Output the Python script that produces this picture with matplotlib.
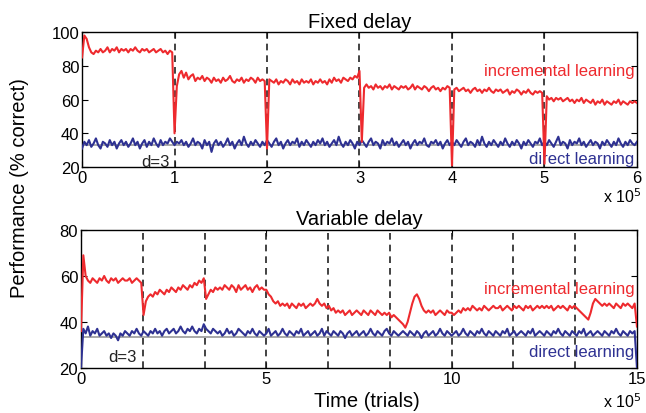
import numpy as np
import matplotlib
matplotlib.use('Agg')
import matplotlib.pyplot as plt

plt.rcParams['font.family'] = ['Liberation Sans', 'DejaVu Sans']

tick_font_size = 12
label_font_size = 14.5

red = '#EE2A2E'
blue = '#2E3192'
chance = 100.0 / 3

# fixed delay: one sample every 0.025 x 1e5 trials, 0..6
fixed_x = np.linspace(0, 6, 241)
fixed_incremental = [
    85, 98, 96, 91, 88, 87, 89, 88, 90, 88, 89, 91, 88, 90, 89, 91, 88, 90, 89, 90,
    88, 90, 89, 91, 89, 88, 90, 89, 90, 88, 89, 90, 88, 89, 90, 88, 89, 87, 89, 88,
    40, 68, 75, 77, 73, 76, 72, 74, 75, 71, 73, 72, 74, 71, 73, 72, 70, 73, 71, 72,
    70, 73, 71, 72, 74, 71, 70, 72, 71, 73, 70, 72, 71, 73, 72, 70, 73, 71, 72, 71,
    31, 72, 71, 70, 72, 69, 71, 70, 72, 71, 69, 72, 70, 71, 69, 72, 70, 71, 70, 72,
    69, 71, 70, 72, 70, 71, 69, 72, 70, 73, 71, 72, 70, 73, 72, 71, 73, 72, 74, 73,
    77, 35, 67, 69, 67, 68, 66, 69, 67, 68, 66, 68, 67, 69, 66, 68, 67, 66, 68, 67,
    68, 66, 67, 69, 66, 68, 67, 66, 68, 67, 65, 67, 68, 66, 67, 65, 67, 66, 68, 67,
    21, 66, 67, 65, 66, 67, 65, 66, 64, 66, 67, 65, 66, 64, 66, 65, 67, 65, 64, 66,
    65, 66, 64, 65, 66, 63, 65, 64, 66, 65, 63, 65, 64, 66, 64, 63, 65, 64, 65, 64,
    22, 62, 60, 61, 59, 61, 60, 61, 59, 60, 61, 59, 60, 58, 60, 59, 61, 58, 60, 59,
    58, 60, 57, 59, 58, 60, 57, 59, 58, 57, 59, 58, 60, 57, 59, 58, 57, 59, 58, 59,
    58,
]
fixed_direct = [
    31, 35, 33, 36, 32, 34, 37, 33, 31, 35, 34, 32, 36, 33, 35, 31, 34, 36, 33, 35,
    32, 34, 37, 33, 35, 31, 34, 36, 32, 35, 33, 37, 34, 32, 36, 33, 35, 34, 37, 35,
    33, 35, 34, 36, 33, 35, 32, 34, 37, 33, 35, 34, 31, 36, 33, 35, 29, 34, 36, 33,
    35, 32, 34, 37, 33, 35, 31, 34, 36, 33, 38, 34, 32, 35, 33, 36, 34, 32, 35, 33,
    36, 34, 32, 35, 37, 33, 35, 31, 34, 36, 33, 35, 34, 37, 32, 35, 33, 36, 34, 32,
    35, 33, 36, 34, 37, 33, 35, 32, 34, 36, 33, 38, 34, 32, 35, 33, 36, 34, 31, 35,
    33, 36, 34, 32, 35, 37, 33, 35, 34, 31, 36, 33, 35, 34, 37, 33, 35, 32, 34, 36,
    33, 35, 31, 34, 36, 33, 35, 34, 37, 33, 32, 35, 34, 36, 33, 35, 31, 34, 36, 33,
    35, 33, 36, 34, 32, 35, 37, 33, 35, 34, 32, 36, 33, 38, 34, 32, 35, 33, 36, 34,
    32, 35, 33, 37, 34, 32, 35, 33, 36, 34, 31, 35, 33, 36, 34, 32, 35, 34, 37, 33,
    35, 33, 36, 34, 32, 35, 38, 33, 35, 34, 31, 36, 33, 35, 34, 37, 33, 35, 32, 34,
    36, 33, 35, 34, 31, 35, 33, 36, 34, 32, 35, 33, 37, 34, 32, 35, 33, 36, 34, 33,
    35,
]
fixed_switches = [1, 2, 3, 4, 5]

# variable delay: one sample every 0.0625 x 1e5 trials, 0..15
var_x = np.linspace(0, 15, 241)
var_incremental = [
    36, 69, 60, 58, 57, 59, 58, 57, 59, 58, 60, 58, 57, 59, 58, 59, 57, 58, 59, 58,
    58, 59, 57, 58, 59, 58, 57, 43, 49, 51, 52, 51, 53, 52, 54, 53, 52, 54, 53, 55,
    54, 53, 55, 54, 56, 55, 54, 56, 55, 57, 56, 58, 57, 59, 50, 52, 54, 53, 55, 54,
    55, 54, 56, 55, 54, 56, 55, 53, 56, 54, 55, 56, 54, 55, 53, 55, 56, 54, 55, 54,
    54, 52, 51, 49, 48, 49, 47, 48, 47, 48, 46, 48, 47, 46, 48, 47, 48, 46, 47, 48,
    47, 48, 50, 48, 47, 48, 46, 47, 45, 46, 44, 45, 44, 45, 43, 44, 45, 43, 44, 45,
    44, 43, 45, 44, 43, 45, 44, 43, 45, 44, 43, 44, 43, 44, 42, 43, 42, 41, 40, 39,
    37.5, 40, 44, 48, 51, 52, 50, 47, 45, 44, 45, 44, 45, 43, 44, 45, 44, 43, 45, 44,
    44, 43, 44, 45, 44, 46, 45, 46, 45, 47, 46, 45, 46, 45, 47, 46, 45, 46, 47, 46,
    46, 47, 45, 46, 47, 46, 45, 47, 46, 47, 46, 45, 47, 46, 47, 45, 46, 47, 46, 47,
    46, 47, 46, 47, 45, 46, 47, 46, 47, 46, 45, 47, 46, 47, 46, 45, 44, 43, 42, 41,
    44, 48, 50, 49, 48, 47, 48, 47, 48, 47, 46, 48, 47, 46, 48, 47, 48, 47, 46, 48,
    38,
]
var_direct = [
    20, 37, 35, 38, 34, 36, 35, 37, 34, 35, 36, 34, 35, 33, 35, 34, 32, 35, 34, 36,
    35, 34, 36, 35, 37, 35, 34, 36, 35, 34, 36, 35, 37, 35, 36, 34, 36, 37, 35, 36,
    37, 35, 36, 38, 36, 35, 37, 36, 38, 36, 35, 37, 36, 39, 37, 36, 35, 37, 36, 35,
    36, 34, 35, 37, 35, 36, 34, 35, 37, 36, 35, 34, 36, 35, 37, 35, 34, 36, 35, 34,
    35, 37, 34, 35, 36, 34, 35, 37, 35, 34, 36, 35, 34, 36, 35, 37, 34, 35, 36, 34,
    35, 36, 34, 35, 37, 34, 36, 35, 34, 36, 35, 34, 36, 35, 33, 35, 36, 34, 35, 36,
    34, 35, 36, 34, 35, 37, 35, 34, 36, 35, 34, 36, 37, 35, 34, 36, 35, 34, 35, 36,
    35, 34, 36, 35, 34, 36, 35, 33, 35, 36, 34, 35, 36, 34, 35, 37, 35, 34, 36, 35,
    34, 35, 36, 34, 35, 37, 35, 34, 36, 35, 34, 36, 35, 37, 35, 34, 36, 35, 34, 36,
    35, 34, 36, 35, 37, 34, 35, 36, 34, 35, 36, 35, 34, 36, 35, 37, 34, 35, 36, 35,
    34, 36, 35, 34, 36, 35, 37, 35, 34, 36, 35, 34, 36, 35, 34, 36, 35, 37, 34, 35,
    36, 34, 35, 36, 35, 34, 36, 35, 34, 36, 35, 37, 35, 34, 36, 35, 34, 36, 35, 36,
    20,
]
var_switches = [5 / 3 * k for k in range(1, 9)]


fig = plt.figure(figsize=(6.46, 4.14), dpi=100)
ax1 = fig.add_axes([0.127, 0.594, 0.859, 0.326])
ax2 = fig.add_axes([0.1254, 0.109, 0.8606, 0.333])


def style_axis(ax):
    ax.tick_params(axis='both', which='major', direction='in', length=4,
                   top=True, right=True, labelsize=tick_font_size, pad=2)
    for sp in ax.spines.values():
        sp.set_linewidth(1.0)


# top panel
ax1.axhline(chance, color='#999999', linewidth=1.2, zorder=1)
for s in fixed_switches:
    ax1.axvline(s, color='#222222', linestyle=(0, (4, 3)), linewidth=1.2, zorder=2)
ax1.plot(fixed_x, fixed_direct, color=blue, linewidth=1.5, zorder=3)
ax1.plot(fixed_x, fixed_incremental, color=red, linewidth=1.5, zorder=4)
ax1.set_xlim(0, 6)
ax1.set_ylim(20, 100)
ax1.set_xticks(range(0, 7))
ax1.set_yticks([20, 40, 60, 80, 100])
style_axis(ax1)
ax1.set_title('Fixed delay', fontsize=label_font_size, pad=4)
ax1.text(5.97, 77, 'incremental learning', color=red, fontsize=tick_font_size,
         ha='right', va='center')
ax1.text(5.97, 25.3, 'direct learning', color=blue, fontsize=tick_font_size,
         ha='right', va='center')
ax1.text(0.79, 23.3, 'd=3', color='#222222', fontsize=tick_font_size,
         ha='center', va='center')

# bottom panel
ax2.axhline(chance, color='#999999', linewidth=1.2, zorder=1)
for s in var_switches:
    ax2.axvline(s, color='#222222', linestyle=(0, (4, 3)), linewidth=1.2, zorder=2)
ax2.plot(var_x, var_direct, color=blue, linewidth=1.5, zorder=3)
ax2.plot(var_x, var_incremental, color=red, linewidth=1.5, zorder=4)
ax2.set_xlim(0, 15)
ax2.set_ylim(20, 80)
ax2.set_xticks([0, 5, 10, 15])
ax2.set_yticks([20, 40, 60, 80])
style_axis(ax2)
ax2.set_title('Variable delay', fontsize=label_font_size, pad=4)
ax2.text(14.93, 54.7, 'incremental learning', color=red, fontsize=tick_font_size,
         ha='right', va='center')
ax2.text(14.93, 27.3, 'direct learning', color=blue, fontsize=tick_font_size,
         ha='right', va='center')
ax2.text(1.11, 24.8, 'd=3', color='#222222', fontsize=tick_font_size,
         ha='center', va='center')

# shared labels
fig.text(0.030, 0.546, 'Performance (% correct)', rotation=90,
         fontsize=label_font_size, ha='center', va='center')
fig.text(0.568, 0.030, 'Time (trials)', fontsize=label_font_size,
         ha='center', va='center')
fig.text(0.993, 0.524, r'x 10$^5$', fontsize=tick_font_size - 0.5, ha='right', va='center')
fig.text(0.993, 0.030, r'x 10$^5$', fontsize=tick_font_size - 0.5, ha='right', va='center')

fig.savefig('out.png', dpi=100)
